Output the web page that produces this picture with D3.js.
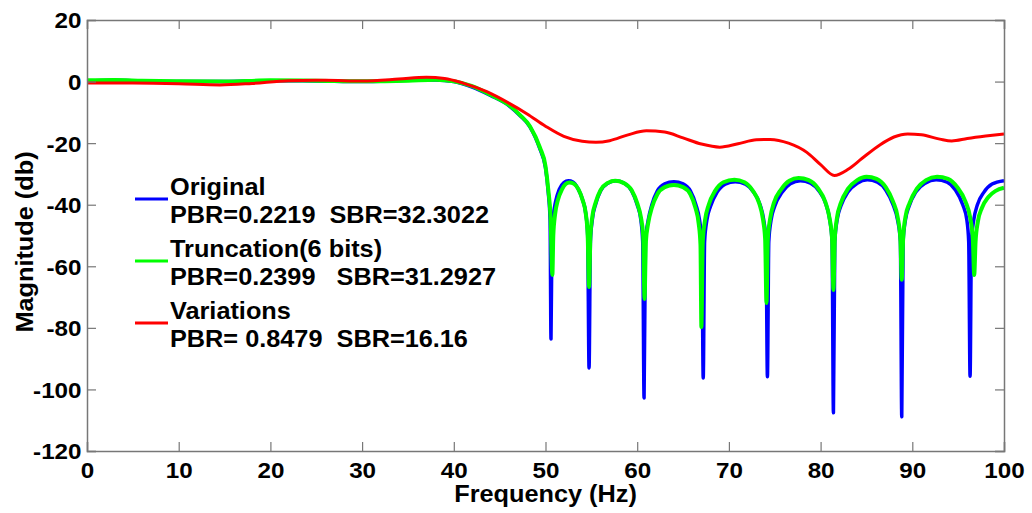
<!DOCTYPE html>
<html>
<head>
<meta charset="utf-8">
<script src="https://cdn.jsdelivr.net/npm/d3@7"></script>
<style>
  body { margin: 0; background: #fff; }
  text { font-family: Arial, 'Liberation Sans', sans-serif; font-weight: bold; fill: #000; }
</style>
</head>
<body>
<svg class="svg" width="1032" height="513"></svg>
<script>
const freqTicks = [0, 10, 20, 30, 40, 50, 60, 70, 80, 90, 100];
const magTicks = [20, 0, -20, -40, -60, -80, -100, -120];

// [frequency Hz, magnitude dB]
const originalData = [
  [0, 0.2], [3, 0.4], [6, 0.2], [10, 0], [15, 0], [20, 0.3], [25, 0.2], [30, 0], [35, 0.4], [38, 0.5],
  [40, 0], [42, -1.8], [44, -4.5], [46, -7.8], [47.2, -11], [48.3, -14.7], [49.4, -22], [50, -28],
  [50.3, -36], [50.5, -45], [50.6, -83.6],
  [50.7, -52], [50.85, -44], [51.1, -39], [51.5, -35], [52, -32.8], [52.5, -32.2], [53, -32.6],
  [53.5, -34.5], [54, -38], [54.4, -43], [54.6, -50], [54.75, -93],
  [54.9, -52], [55.1, -45], [55.5, -39.5], [56, -35.5], [56.8, -33], [57.7, -32.2], [58.6, -33],
  [59.4, -35.5], [60, -40], [60.4, -45], [60.6, -52], [60.75, -102.8],
  [60.9, -52], [61.2, -45], [61.6, -40], [62.2, -35.5], [63, -33.2], [64, -32.5], [65, -33.2],
  [65.8, -35.5], [66.4, -40], [66.8, -45], [67.05, -52], [67.2, -96.3],
  [67.35, -52], [67.6, -45], [68, -40.5], [68.7, -36], [69.6, -33.3], [70.7, -32.5], [71.8, -33.3],
  [72.7, -36], [73.4, -40], [73.8, -45], [74.05, -52], [74.2, -95.9],
  [74.35, -52], [74.6, -45], [75, -40.5], [75.8, -36], [76.7, -33.2], [77.8, -32.2], [78.9, -33],
  [79.8, -35.5], [80.6, -40], [81, -45], [81.25, -52], [81.4, -107.6],
  [81.55, -52], [81.8, -45], [82.2, -40.5], [83, -35.8], [84, -33], [85.1, -31.9], [86.2, -32.7],
  [87.1, -35.2], [87.9, -40], [88.4, -45], [88.7, -52], [88.85, -108.9],
  [89, -52], [89.25, -45], [89.65, -40.5], [90.4, -35.8], [91.4, -33], [92.6, -31.9], [93.8, -32.7],
  [94.7, -35.2], [95.5, -40], [95.95, -45], [96.15, -52], [96.3, -95.7],
  [96.45, -52], [96.7, -45], [97.1, -40], [97.8, -36], [98.7, -33.3], [100, -32.2]
];

const truncationData = [
  [0, 0.4], [3, 0.5], [6, 0.3], [10, 0.1], [15, 0], [20, 0.4], [25, 0.3], [30, 0.1], [35, 0.3], [38, 0.6],
  [40, 0.1], [42, -1.5], [44, -4.3], [46, -7.6], [47.2, -10.8], [48.3, -14.5], [49.4, -21.5], [50, -27.5],
  [50.3, -35], [50.55, -44], [50.75, -62.8],
  [50.85, -50], [51.05, -43], [51.35, -38.5], [51.8, -35], [52.2, -33.3], [52.6, -32.8], [53.1, -33.2],
  [53.6, -35], [54.05, -38.5], [54.4, -43], [54.6, -50], [54.75, -66.7],
  [54.9, -50], [55.1, -44], [55.5, -39], [56, -35.3], [56.8, -32.9], [57.6, -32.2], [58.5, -32.9],
  [59.4, -35.3], [60, -39.5], [60.4, -44], [60.65, -50], [60.8, -70.6],
  [60.95, -52], [61.2, -46], [61.6, -41], [62.2, -36.6], [63, -34.3], [64, -33.6], [65, -34.3],
  [65.8, -36.6], [66.35, -41], [66.7, -46], [66.9, -53], [67, -79.7],
  [67.15, -52], [67.4, -45], [67.8, -40], [68.5, -35.5], [69.4, -32.7], [70.6, -31.9], [71.7, -32.7],
  [72.6, -35.4], [73.3, -39.5], [73.7, -44.5], [73.95, -51], [74.1, -71.9],
  [74.25, -51], [74.5, -44.5], [74.9, -39.5], [75.7, -35], [76.6, -32.2], [77.6, -31.3], [78.7, -32],
  [79.7, -34.6], [80.5, -39], [80.95, -44], [81.25, -51], [81.4, -67.7],
  [81.55, -51], [81.8, -44], [82.2, -39.5], [83, -34.8], [84, -32], [85, -30.9], [86.1, -31.6],
  [87.1, -34.3], [87.9, -39], [88.4, -44], [88.7, -51], [88.85, -64.4],
  [89, -51], [89.25, -44], [89.7, -39.5], [90.5, -34.8], [91.5, -32], [92.7, -30.9], [93.9, -31.6],
  [94.9, -34.3], [95.8, -39], [96.3, -44], [96.6, -51], [96.75, -62.8],
  [96.9, -52], [97.15, -45.5], [97.6, -41], [98.3, -37.5], [99.1, -35.5], [100, -34.5]
];

const variationsData = [
  [0, -0.5], [5, -0.5], [10, -0.7], [14.5, -1.1], [18, -0.6], [22, 0.3], [26, 0.4], [30, 0.2],
  [34, 0.8], [37, 1.4], [39, 1], [41, -0.5], [43.6, -3.3], [46, -7], [48, -10.5], [50, -14.5],
  [52, -17.8], [54, -19.4], [55.5, -19.7], [57, -19.2], [59, -17.3], [61, -16], [63, -16.4],
  [65, -18.3], [67, -20.3], [69, -21.3], [71, -20.2], [73, -18.9], [74.5, -18.8], [76.5, -20],
  [78.5, -23], [80, -27], [81.5, -30.5], [83, -28.5], [84.5, -25], [86.5, -20.5], [88, -18],
  [89.5, -17], [91, -17.3], [93, -18.7], [94.3, -19.3], [96, -18.5], [98, -17.7], [100, -17]
];

const seriesNames = ['Original', 'Truncation(6 bits)', 'Variations'];
const seriesNotes = ['PBR=0.2219  SBR=32.3022', 'PBR=0.2399   SBR=31.2927', 'PBR= 0.8479  SBR=16.16'];
const seriesColors = ['#0000ff', '#00ff00', '#ff0000'];

const width = 1032;
const height = 513;
const margin = { top: 20, right: 28, bottom: 62, left: 87 };
const stretch = 'scale(1.1,1)';

const svg = d3.select('.svg');

const x = d3.scaleLinear().domain([0, 100]).range([margin.left, width - margin.right]);
const y = d3.scaleLinear().domain([-120, 20]).range([height - margin.bottom, margin.top]);

const line = d3
  .line()
  .x(d => x(d[0]))
  .y(d => y(d[1]))
  .curve(d3.curveMonotoneX);

const series = [originalData, truncationData, variationsData];
const widths = [3.5, 4, 3];

svg
  .append('g')
  .selectAll('path')
  .data(series)
  .join('path')
  .attr('d', d => line(d))
  .attr('fill', 'none')
  .attr('stroke', (d, i) => seriesColors[i])
  .attr('stroke-width', (d, i) => widths[i])
  .attr('stroke-linejoin', 'round');

// box + inward ticks on all sides
const axisColor = '#777';
const plain = d => String(d); // ascii hyphen for negatives, like the original

const bottomAxis = svg
  .append('g')
  .attr('transform', `translate(0,${height - margin.bottom})`)
  .call(d3.axisBottom(x).tickValues(freqTicks).tickSize(-9).tickPadding(11).tickFormat(plain));
const topAxis = svg
  .append('g')
  .attr('transform', `translate(0,${margin.top})`)
  .call(d3.axisTop(x).tickValues(freqTicks).tickSize(-9).tickFormat(''));
const leftAxis = svg
  .append('g')
  .attr('transform', `translate(${margin.left},0)`)
  .call(d3.axisLeft(y).tickValues(magTicks).tickSize(-9).tickPadding(5).tickFormat(plain));
const rightAxis = svg
  .append('g')
  .attr('transform', `translate(${width - margin.right},0)`)
  .call(d3.axisRight(y).tickValues(magTicks).tickSize(-9).tickFormat(''));

[bottomAxis, topAxis, leftAxis, rightAxis].forEach(g => {
  g.select('.domain').attr('stroke', axisColor).attr('stroke-width', 1.5);
  g.selectAll('.tick line').attr('stroke', axisColor).attr('stroke-width', 1.2);
  g.selectAll('text')
    .attr('font-size', 22)
    .attr('font-family', null)
    .attr('fill', '#000');
});
bottomAxis.selectAll('.tick text').attr('transform', stretch);
leftAxis.selectAll('.tick text').attr('transform', stretch).attr('dy', '0.36em');

// axis labels
svg
  .append('text')
  .attr('transform', `translate(${(margin.left + width - margin.right) / 2},502) ${stretch}`)
  .attr('text-anchor', 'middle')
  .attr('font-size', 23)
  .text('Frequency (Hz)');

svg
  .append('text')
  .attr('transform', `translate(33,242) rotate(-90) scale(1.1,1.05)`)
  .attr('text-anchor', 'middle')
  .attr('font-size', 23)
  .text('Magnitude (db)');

// legend
const legend = svg.append('g');
const rowGap = 62;
seriesNames.forEach((name, i) => {
  const y0 = 195 + i * rowGap;
  legend
    .append('line')
    .attr('x1', 135)
    .attr('x2', 168)
    .attr('y1', y0 + 4)
    .attr('y2', y0 + 4)
    .attr('stroke', seriesColors[i])
    .attr('stroke-width', 3);
  legend
    .append('text')
    .attr('transform', `translate(170,${y0}) scale(1.1,1)`)
    .attr('font-size', 23)
    .text(name);
  legend
    .append('text')
    .attr('transform', `translate(170,${y0 + 28}) scale(1.1,1)`)
    .attr('font-size', 23)
    .style('white-space', 'pre')
    .text(seriesNotes[i]);
});
</script>
</body>
</html>
